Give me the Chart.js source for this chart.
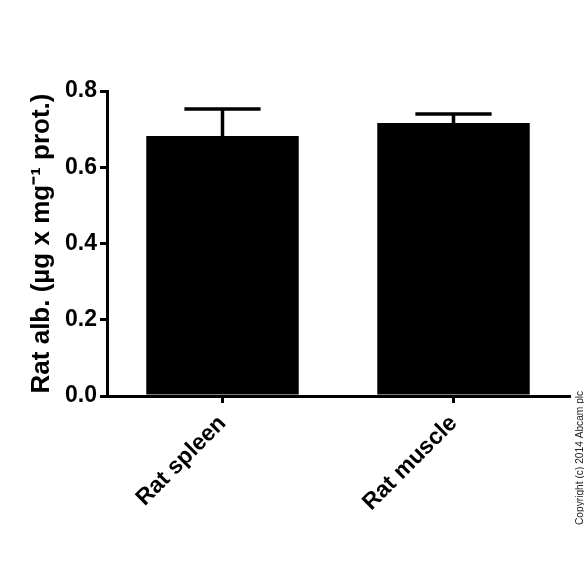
<!DOCTYPE html>
<html>
<head>
<meta charset="utf-8">
<script src="https://cdn.jsdelivr.net/npm/chart.js@4/dist/chart.umd.min.js"></script>
<style>
    html, body {margin: 0; padding: 0; background: #fff;}
    #wrap {width: 584px; height: 584px;}
</style>
</head>
<body>
<div id="wrap"><canvas id="chart"></canvas></div>
<script>
// Values
const categories = ["Rat spleen", "Rat muscle"];
const means = [0.682, 0.716];
const errors = [0.071, 0.024]; // upper error (SEM)
const yTicks = [0.0, 0.2, 0.4, 0.6, 0.8];

const FONT = "'Liberation Sans', Arial, sans-serif";

// Draws the upper error bars with caps
const errorBars = {
    id: "errorBars",
    afterDatasetsDraw(chart) {
        const ctx = chart.ctx;
        const meta = chart.getDatasetMeta(0);
        const y = chart.scales.y;
        ctx.save();
        ctx.strokeStyle = "#000";
        ctx.lineWidth = 3.5;
        meta.data.forEach((bar, i) => {
            const top = y.getPixelForValue(means[i] + errors[i]);
            const base = y.getPixelForValue(means[i]);
            const half = bar.width / 4;
            ctx.beginPath();
            ctx.moveTo(bar.x, base);
            ctx.lineTo(bar.x, top);
            ctx.moveTo(bar.x - half, top);
            ctx.lineTo(bar.x + half, top);
            ctx.stroke();
        });
        ctx.restore();
    },
};

// Small vertical copyright note at the right edge
const copyright = {
    id: "copyright",
    afterDraw(chart) {
        const ctx = chart.ctx;
        ctx.save();
        ctx.translate(580, 525);
        ctx.rotate(-Math.PI / 2);
        ctx.font = "10.2px " + FONT;
        ctx.fillStyle = "#222";
        ctx.textAlign = "left";
        ctx.textBaseline = "middle";
        ctx.fillText("Copyright (c) 2014 Abcam plc", 0, 0);
        ctx.restore();
    },
};

new Chart(document.getElementById("chart"), {
    type: "bar",
    data: {
        labels: categories,
        datasets: [
            {
                data: means,
                backgroundColor: "#000",
                borderColor: "#000",
                borderWidth: 0,
                barPercentage: 0.66,
                categoryPercentage: 1.0,
            },
        ],
    },
    options: {
        responsive: true,
        maintainAspectRatio: false,
        animation: false,
        layout: {
            padding: {left: 0, right: 15, top: 91, bottom: 0},
        },
        plugins: {
            legend: {display: false},
            tooltip: {enabled: false},
        },
        scales: {
            x: {
                offset: true,
                border: {display: true, color: "#000", width: 3},
                grid: {
                    display: true,
                    offset: false,
                    drawOnChartArea: false,
                    drawTicks: true,
                    tickLength: 7,
                    lineWidth: 3,
                    color: "#000",
                },
                ticks: {
                    color: "#000",
                    font: {family: FONT, size: 23, weight: "bold"},
                    maxRotation: 45,
                    minRotation: 45,
                    padding: 7,
                },
                afterFit(scale) {
                    scale.height = 188;
                },
            },
            y: {
                min: 0,
                max: 0.8,
                border: {display: true, color: "#000", width: 3},
                grid: {
                    display: true,
                    drawOnChartArea: false,
                    drawTicks: true,
                    tickLength: 7,
                    lineWidth: 3,
                    color: "#000",
                },
                afterBuildTicks(scale) {
                    scale.ticks = yTicks.map((v) => ({value: v}));
                },
                ticks: {
                    color: "#000",
                    font: {family: FONT, size: 23, weight: "bold"},
                    padding: 3,
                    callback: (v) => v.toFixed(1),
                },
                title: {
                    display: true,
                    text: "Rat alb. (\u00b5g x mg\u207b\u00b9 prot.)",
                    color: "#000",
                    font: {family: FONT, size: 26, weight: "bold"},
                    padding: {top: 26, bottom: 0},
                },
                afterFit(scale) {
                    scale.width = 107;
                },
            },
        },
    },
    plugins: [errorBars, copyright],
});
</script>
</body>
</html>
